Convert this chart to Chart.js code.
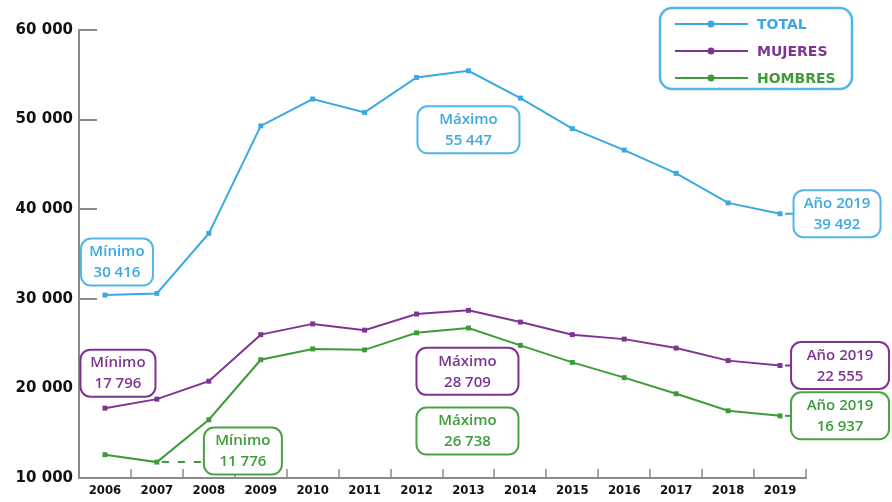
<!DOCTYPE html>
<html>
<head>
<meta charset="utf-8">
<script src="https://cdn.jsdelivr.net/npm/chart.js@4.4.0/dist/chart.umd.min.js"></script>
<style>
  html, body { margin: 0; padding: 0; background: #fff; }
  #wrap { width: 892px; height: 502px; position: relative; }
</style>
</head>
<body>
<div id="wrap"><canvas id="grafiek"></canvas></div>
<script>
// Gegevens
const jaren = ['2006', '2007', '2008', '2009', '2010', '2011', '2012', '2013', '2014', '2015', '2016', '2017', '2018', '2019'];
const totaal = [30416, 30600, 37300, 49300, 52300, 50800, 54700, 55447, 52400, 49000, 46600, 44000, 40700, 39492];
const mujeres = [17796, 18800, 20800, 26000, 27200, 26500, 28300, 28709, 27400, 26000, 25500, 24500, 23100, 22555];
const hombres = [12600, 11776, 16500, 23200, 24400, 24300, 26200, 26738, 24800, 22900, 21200, 19400, 17500, 16937];
const yWaarden = [10000, 20000, 30000, 40000, 50000, 60000];
const serieNamen = ['TOTAL', 'MUJERES', 'HOMBRES'];
const series = [totaal, mujeres, hombres];

const kleuren = ['#3ba8e3', '#7e3592', '#3e9b3b'];
const randKleuren = ['#52b6ea', '#7e3592', '#4aa346'];

// Notities bij de punten (plaats ten opzichte van het punt)
const notities = [
  { serie: 0, idx: 0, titel: 'Mínimo', dx: 12, dy: -33, w: 72 },
  { serie: 0, idx: 7, titel: 'Máximo', dx: 0, dy: 59, w: 102 },
  { serie: 0, idx: 13, titel: 'Año 2019', dx: 57, dy: 0, w: 87, lijn: 'vol' },
  { serie: 1, idx: 0, titel: 'Mínimo', dx: 13, dy: -35, w: 75 },
  { serie: 1, idx: 7, titel: 'Máximo', dx: -1, dy: 61, w: 102 },
  { serie: 1, idx: 13, titel: 'Año 2019', dx: 60, dy: 0, w: 98, lijn: 'vol' },
  { serie: 2, idx: 1, titel: 'Mínimo', dx: 86, dy: -11, w: 78, lijn: 'streep' },
  { serie: 2, idx: 7, titel: 'Máximo', dx: -1, dy: 103, w: 102 },
  { serie: 2, idx: 13, titel: 'Año 2019', dx: 60, dy: 0, w: 98, lijn: 'vol' }
];

function formatGetal(v) {
  return String(v).replace(/\B(?=(\d{3})+(?!\d))/g, ' ');
}

function rondeRechthoek(ctx, x, y, w, h, r) {
  ctx.beginPath();
  ctx.moveTo(x + r, y);
  ctx.arcTo(x + w, y, x + w, y + h, r);
  ctx.arcTo(x + w, y + h, x, y + h, r);
  ctx.arcTo(x, y + h, x, y, r);
  ctx.arcTo(x, y, x + w, y, r);
  ctx.closePath();
}

// Kleine streepjes binnen de assen
const asStreepjes = {
  id: 'asStreepjes',
  afterDraw(chart) {
    const ctx = chart.ctx;
    const ys = chart.scales.y;
    const area = chart.chartArea;
    ctx.save();
    ctx.strokeStyle = '#8a8a8a';
    ctx.lineWidth = 2;
    yWaarden.forEach(v => {
      if (v === ys.min) return;
      const y = Math.round(ys.getPixelForValue(v));
      ctx.beginPath();
      ctx.moveTo(area.left, y);
      ctx.lineTo(area.left + 18, y);
      ctx.stroke();
    });
    const n = jaren.length;
    const stap = (area.right - area.left) / n;
    ctx.lineWidth = 1.5;
    for (let i = 1; i <= n; i++) {
      const x = Math.round(area.left + i * stap);
      ctx.beginPath();
      ctx.moveTo(x, area.bottom);
      ctx.lineTo(x, area.bottom - 9);
      ctx.stroke();
    }
    ctx.restore();
  }
};

// Notities en legenda tekenen
const notitiePlugin = {
  id: 'notities',
  afterDraw(chart) {
    const ctx = chart.ctx;
    ctx.save();
    notities.forEach(n => {
      const punt = chart.getDatasetMeta(n.serie).data[n.idx];
      const cx = punt.x + n.dx;
      const cy = punt.y + n.dy;
      const h = 47;
      const links = cx - n.w / 2;
      const kleur = kleuren[n.serie];

      if (n.lijn) {
        ctx.beginPath();
        ctx.strokeStyle = kleur;
        ctx.lineWidth = 2;
        ctx.setLineDash(n.lijn === 'streep' ? [7, 9] : []);
        ctx.moveTo(punt.x + 5, punt.y);
        ctx.lineTo(links, punt.y);
        ctx.stroke();
        ctx.setLineDash([]);
      }

      rondeRechthoek(ctx, links, cy - h / 2, n.w, h, 10);
      ctx.fillStyle = '#ffffff';
      ctx.fill();
      ctx.lineWidth = 2;
      ctx.strokeStyle = randKleuren[n.serie];
      ctx.stroke();

      ctx.fillStyle = kleur;
      ctx.textAlign = 'center';
      ctx.textBaseline = 'middle';
      ctx.font = '600 15px "Open Sans", sans-serif';
      ctx.fillText(n.titel, cx, cy - 10);
      ctx.fillText(formatGetal(series[n.serie][n.idx]), cx, cy + 11);
    });

    // Legenda
    rondeRechthoek(ctx, 660, 8, 192, 81, 12);
    ctx.lineWidth = 2.5;
    ctx.strokeStyle = '#52b6ea';
    ctx.stroke();
    serieNamen.forEach((naam, i) => {
      const y = 24 + i * 27;
      ctx.strokeStyle = kleuren[i];
      ctx.lineWidth = 2;
      ctx.beginPath();
      ctx.moveTo(675, y);
      ctx.lineTo(748, y);
      ctx.stroke();
      ctx.fillStyle = kleuren[i];
      ctx.beginPath();
      ctx.arc(711, y, 3.5, 0, Math.PI * 2);
      ctx.fill();
      ctx.font = 'bold 14px "DejaVu Sans", sans-serif';
      ctx.textAlign = 'left';
      ctx.textBaseline = 'middle';
      ctx.fillText(naam, 757, y + 1);
    });
    ctx.restore();
  }
};

const datasets = series.map((data, i) => ({
  label: serieNamen[i],
  data: data,
  borderColor: kleuren[i],
  backgroundColor: kleuren[i],
  borderWidth: 2,
  pointStyle: 'rect',
  pointRadius: 3.5,
  pointBorderWidth: 0,
  tension: 0
}));

new Chart(document.getElementById('grafiek'), {
  type: 'line',
  data: { labels: jaren, datasets: datasets },
  options: {
    responsive: true,
    maintainAspectRatio: false,
    animation: false,
    layout: { padding: { left: 0, right: 86, top: 30, bottom: 0 } },
    plugins: {
      legend: { display: false },
      tooltip: { enabled: false }
    },
    scales: {
      x: {
        offset: true,
        grid: { drawOnChartArea: false, drawTicks: false },
        border: { color: '#8a8a8a', width: 2 },
        ticks: {
          padding: 5,
          color: '#111',
          font: { family: '"Liberation Sans Narrow", "DejaVu Sans Condensed", sans-serif', weight: 'bold', size: 13 },
          maxRotation: 0
        },
        afterFit(s) { s.height = 24; }
      },
      y: {
        min: 10000,
        max: 60000,
        grid: { drawOnChartArea: false, drawTicks: false },
        border: { color: '#8a8a8a', width: 2 },
        ticks: {
          stepSize: 10000,
          padding: 6,
          color: '#111',
          font: { family: '"DejaVu Sans", sans-serif', weight: 'bold', size: 15 },
          callback: v => formatGetal(v)
        },
        afterFit(s) { s.width = 79; }
      }
    }
  },
  plugins: [asStreepjes, notitiePlugin]
});
</script>
</body>
</html>
